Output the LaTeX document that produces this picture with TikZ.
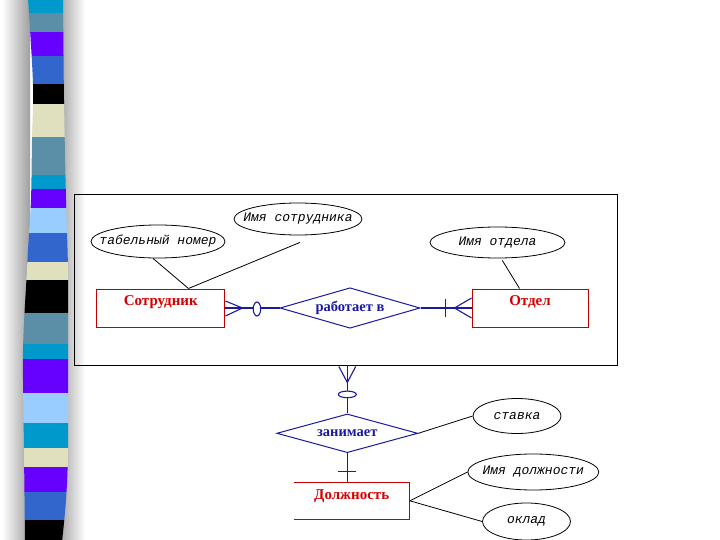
\documentclass[tikz,border=0pt]{standalone}
\usepackage{fontspec}
\setmainfont{Liberation Serif}
\newfontfamily\attrfont{Liberation Mono}
\usetikzlibrary{shapes.geometric,calc}
\definecolor{entred}{HTML}{C00000}
\definecolor{enttext}{HTML}{D40000}
\definecolor{relblue}{HTML}{1A1AA0}
\definecolor{stcyan}{HTML}{0099CC}
\definecolor{ststeel}{HTML}{5B8FA8}
\definecolor{stviolet}{HTML}{6600FF}
\definecolor{stroyal}{HTML}{3366CC}
\definecolor{stbeige}{HTML}{E0E0BE}
\definecolor{stlight}{HTML}{99CCFF}
\begin{document}
\begin{tikzpicture}[x=1pt,y=-1pt,
  entity/.style={rectangle, draw=entred, line width=1pt, text=enttext,
    font=\fontsize{15}{18}\selectfont\bfseries, inner sep=0pt,
    text height=10pt, text depth=16pt},
  relation/.style={diamond, aspect=3.6, draw=relblue, line width=1pt, text=relblue,
    font=\fontsize{14.5}{17}\selectfont\bfseries, inner sep=0pt},
  attrlabel/.style={font=\attrfont\itshape\fontsize{13}{15}\selectfont, inner sep=0pt},
  attr/.style={ellipse, draw=black, line width=0.8pt, inner sep=0pt,
    label={[attrlabel]center:#1}},
  attrline/.style={draw=black, line width=0.8pt},
  relline/.style={draw=relblue, line width=1.1pt},
  stripe/.style={fill=#1},
]
\useasboundingbox (0,0) rectangle (720,540);
\fill[white] (0,0) rectangle (720,540);
% shadows of the stripe bar
\shade[left color=white, right color=gray!75] (2,0) rectangle (30,540);
\shade[left color=gray!70, right color=white] (60,0) rectangle (85,540);
% striped bar
\begin{scope}
\clip plot[smooth] coordinates {(28,-2) (33,84) (32,140) (31,200) (28,250) (27,270) (23,350) (24,450) (25,542)}
  -- plot[smooth] coordinates {(62,542) (66,500) (68,450) (68,350) (68,270) (66,200) (64,100) (63,-2)} -- cycle;
\fill[stripe=stcyan] (0,-2) rectangle (80,13);
\fill[stripe=ststeel] (0,13) rectangle (80,32);
\fill[stripe=stviolet] (0,32) rectangle (80,56);
\fill[stripe=stroyal] (0,56) rectangle (80,84);
\fill[stripe=black] (0,84) rectangle (80,104);
\fill[stripe=stbeige] (0,104) rectangle (80,137);
\fill[stripe=ststeel] (0,137) rectangle (80,175);
\fill[stripe=stcyan] (0,175) rectangle (80,189);
\fill[stripe=stviolet] (0,189) rectangle (80,208);
\fill[stripe=stlight] (0,208) rectangle (80,233);
\fill[stripe=stroyal] (0,233) rectangle (80,262);
\fill[stripe=stbeige] (0,262) rectangle (80,280);
\fill[stripe=black] (0,280) rectangle (80,313);
\fill[stripe=ststeel] (0,313) rectangle (80,344);
\fill[stripe=stcyan] (0,344) rectangle (80,359);
\fill[stripe=stviolet] (0,359) rectangle (80,393);
\fill[stripe=stlight] (0,393) rectangle (80,423);
\fill[stripe=stcyan] (0,423) rectangle (80,448);
\fill[stripe=stbeige] (0,448) rectangle (80,467);
\fill[stripe=stviolet] (0,467) rectangle (80,492);
\fill[stripe=stroyal] (0,492) rectangle (80,520);
\fill[stripe=black] (0,520) rectangle (80,542);
\end{scope}
% aggregation frame
\node[draw=black, line width=0.8pt, minimum width=543pt, minimum height=171pt, inner sep=0pt] (agg) at (345.5,279.5) {};
% entities
\node[entity, minimum width=128.3pt, minimum height=38pt] (sotr) at (160.8,308) {Сотрудник};
\node[entity, minimum width=116pt, minimum height=38pt] (otdel) at (530,308) {Отдел};
\node[entity, draw=none, text depth=12pt, minimum width=115.3pt, minimum height=36.3pt] (dolzh) at (351.7,500.8) {Должность};
\draw[entred, line width=1pt] (dolzh.north west) -- (dolzh.north east) -- (dolzh.south east) -- (dolzh.south west);
% relationships
\node[relation, minimum width=140pt, minimum height=40.5pt] (rabot) at (350,308) {работает в};
\node[relation, minimum width=141pt, minimum height=38.7pt] (zanim) at (347.3,433.3) {занимает};
% attributes
\node[attr={табельный номер}, minimum width=134pt, minimum height=33pt] (tab) at (158,241.5) {};
\node[attr={Имя сотрудника}, minimum width=128pt, minimum height=32pt] (imsotr) at (298,219) {};
\node[attr={Имя отдела}, minimum width=135pt, minimum height=31pt] (imotd) at (497.5,242.5) {};
\node[attr={ставка}, minimum width=88pt, minimum height=35pt] (stavka) at (517,416) {};
\node[attr={Имя должности}, minimum width=131pt, minimum height=36pt] (imdolzh) at (533.3,472) {};
\node[attr={оклад}, minimum width=88pt, minimum height=37pt] (oklad) at (526.5,521.5) {};
% attribute connectors
\draw[attrline] ($(tab.south)+(-5,0)$) -- ($(sotr.north west)+(92.3,0)$);
\draw[attrline] ($(imsotr.south)+(2,7)$) -- ($(sotr.north west)+(92.3,0)$);
\draw[attrline] ($(imotd.south)+(4.8,2)$) -- ($(otdel.north west)+(48,0)$);
\draw[attrline] (zanim.east) -- (stavka.west);
\draw[attrline] (dolzh.east) -- (imdolzh.west);
\draw[attrline] (dolzh.east) -- (oklad.west);
% relationship connectors
\draw[relline] (sotr.east) -- (rabot.west);
\draw[relline] ($(sotr.east)+(0,-7)$) -- ($(sotr.east)+(17,0)$) -- ($(sotr.east)+(0,8)$);
\draw[relline, fill=white] ($(sotr.east)+(31.5,1)$) ellipse [x radius=3.7pt, y radius=7pt];
\draw[relline] (rabot.east) -- (otdel.west);
\draw[relline] ($(otdel.west)+(0,-10)$) -- ($(otdel.west)+(-17,0)$) -- ($(otdel.west)+(0,10)$);
\draw[relline] ($(otdel.west)+(-26,-9)$) -- ($(otdel.west)+(-26,9)$);
\coordinate (aggb) at (zanim.north |- agg.south);
\draw[relline] (aggb) -- (zanim.north);
\draw[relline] ($(aggb)+(-8.5,1)$) -- ($(aggb)+(0,17)$) -- ($(aggb)+(8.5,1)$);
\draw[relline, fill=white] ($(aggb)+(0,29)$) ellipse [x radius=9pt, y radius=3.3pt];
\coordinate (dtop) at (zanim.south |- dolzh.north);
\draw[relline] (zanim.south) -- (dtop);
\draw[relline] ($(dtop)+(-9,-10.5)$) -- ($(dtop)+(9,-10.5)$);
\end{tikzpicture}
\end{document}
